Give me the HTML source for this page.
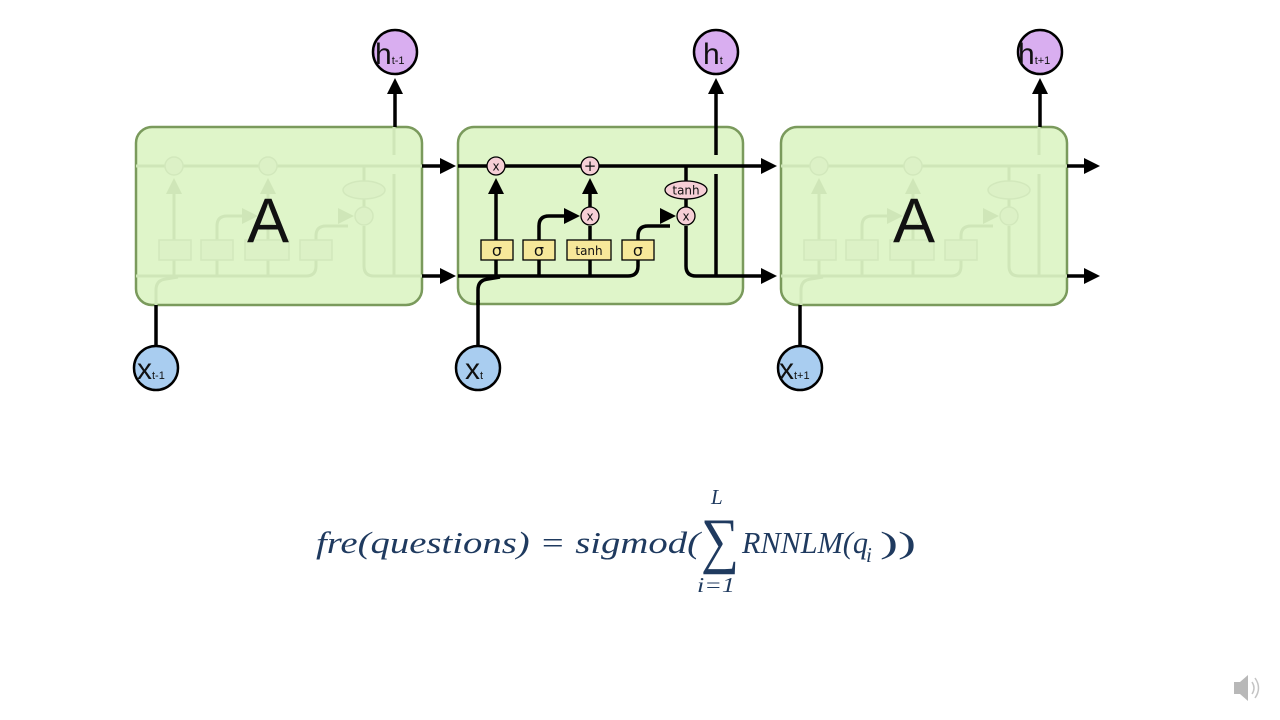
<!DOCTYPE html>
<html><head><meta charset="utf-8"><style>
html,body{margin:0;padding:0;background:#fff;}
svg{display:block;}
</style></head><body>
<svg width="1280" height="720" viewBox="0 0 1280 720" xmlns="http://www.w3.org/2000/svg" font-family="'DejaVu Sans','Liberation Sans',sans-serif">
<defs>
<g id="cell">
  <line x1="458" y1="166" x2="762" y2="166"/>
  <path d="M458 276 H628 Q638 276 638 266 V236 Q638 226 648 226 H670" fill="none"/>
  <path d="M478 305 V290 Q478 280 488 279 L500 277" fill="none"/>
  <path d="M686 226 V266 Q686 276 696 276 H762" fill="none"/>
  <line x1="716" y1="276" x2="716" y2="174"/>
  <line x1="716" y1="155" x2="716" y2="127"/>
  <line x1="496" y1="276" x2="496" y2="194"/>
  <path d="M539 276 V226 Q539 216 549 216 H566" fill="none"/>
  <line x1="590" y1="276" x2="590" y2="226"/>
  <line x1="590" y1="207" x2="590" y2="194"/>
  <line x1="686" y1="166" x2="686" y2="207"/>
</g>
<g id="heads">
  <polygon points="496,178 488,194 504,194"/>
  <polygon points="590,178 582,194 598,194"/>
  <polygon points="580,216 564,208 564,224"/>
  <polygon points="676,216 660,208 660,224"/>
</g>
<g id="nodes">
  <circle cx="496" cy="166" r="9"/>
  <circle cx="590" cy="166" r="9"/>
  <circle cx="590" cy="216" r="9"/>
  <circle cx="686" cy="216" r="9"/>
  <ellipse cx="686" cy="190" rx="21" ry="9"/>
  <rect x="481" y="240" width="32" height="20"/>
  <rect x="523" y="240" width="32" height="20"/>
  <rect x="567" y="240" width="44" height="20"/>
  <rect x="622" y="240" width="32" height="20"/>
</g>
</defs>

<rect x="136" y="127" width="286" height="178" rx="16" fill="#dff5c9" stroke="#7a9a5c" stroke-width="2.5"/>
<rect x="458" y="127" width="285" height="177" rx="16" fill="#dff5c9" stroke="#7a9a5c" stroke-width="2.5"/>
<rect x="781" y="127" width="286" height="178" rx="16" fill="#dff5c9" stroke="#7a9a5c" stroke-width="2.5"/>

<g transform="translate(-322,0)">
  <use href="#cell" stroke="#cfe6b8" stroke-width="3"/>
  <use href="#heads" fill="#cfe6b8"/>
  <use href="#nodes" fill="#dcf1c6" stroke="#d2e8bc" stroke-width="1.5"/>
</g>
<g transform="translate(323,0)">
  <use href="#cell" stroke="#cfe6b8" stroke-width="3"/>
  <use href="#heads" fill="#cfe6b8"/>
  <use href="#nodes" fill="#dcf1c6" stroke="#d2e8bc" stroke-width="1.5"/>
</g>
<text x="268" y="242" font-size="63" text-anchor="middle" fill="#111" font-family="'Liberation Sans',sans-serif">A</text>
<text x="914" y="242" font-size="63" text-anchor="middle" fill="#111" font-family="'Liberation Sans',sans-serif">A</text>

<use href="#cell" stroke="#000" stroke-width="3.5"/>
<use href="#heads" fill="#000"/>
<g stroke="#000" stroke-width="1.3">
  <circle cx="496" cy="166" r="9" fill="#f6cfd6"/>
  <circle cx="590" cy="166" r="9" fill="#f6cfd6"/>
  <circle cx="590" cy="216" r="9" fill="#f6cfd6"/>
  <circle cx="686" cy="216" r="9" fill="#f6cfd6"/>
  <ellipse cx="686" cy="190" rx="21" ry="9" fill="#f6cfd6"/>
  <rect x="481" y="240" width="32" height="20" fill="#f7e89a"/>
  <rect x="523" y="240" width="32" height="20" fill="#f7e89a"/>
  <rect x="567" y="240" width="44" height="20" fill="#f7e89a"/>
  <rect x="622" y="240" width="32" height="20" fill="#f7e89a"/>
</g>
<g font-size="12" text-anchor="middle" fill="#111">
  <text x="496" y="170.5">x</text>
  <text x="590" y="171" font-size="15">+</text>
  <text x="590" y="220.5">x</text>
  <text x="686" y="220.5">x</text>
  <text x="686" y="194.5" font-size="12">tanh</text>
  <text x="497" y="256" font-size="16">σ</text>
  <text x="539" y="256" font-size="16">σ</text>
  <text x="589" y="255" font-size="12">tanh</text>
  <text x="638" y="256" font-size="16">σ</text>
</g>

<g stroke="#000" stroke-width="3.5">
  <line x1="395" y1="127" x2="395" y2="92"/>
  <line x1="716" y1="127" x2="716" y2="92"/>
  <line x1="1040" y1="127" x2="1040" y2="92"/>
  <line x1="422" y1="166" x2="442" y2="166"/>
  <line x1="422" y1="276" x2="442" y2="276"/>
  <line x1="1067" y1="166" x2="1086" y2="166"/>
  <line x1="1067" y1="276" x2="1086" y2="276"/>
  <line x1="156" y1="346" x2="156" y2="305"/>
  <line x1="478" y1="346" x2="478" y2="300"/>
  <line x1="800" y1="346" x2="800" y2="305"/>
</g>
<g fill="#000">
  <polygon points="395,78 387,94 403,94"/>
  <polygon points="716,78 708,94 724,94"/>
  <polygon points="1040,78 1032,94 1048,94"/>
  <polygon points="456,166 440,158 440,174"/>
  <polygon points="456,276 440,268 440,284"/>
  <polygon points="777,166 761,158 761,174"/>
  <polygon points="777,276 761,268 761,284"/>
  <polygon points="1100,166 1084,158 1084,174"/>
  <polygon points="1100,276 1084,268 1084,284"/>
</g>

<g stroke="#000" stroke-width="2.5" fill="#d9aef0">
  <circle cx="395" cy="52" r="22"/>
  <circle cx="716" cy="52" r="22"/>
  <circle cx="1040" cy="52" r="22"/>
</g>
<g stroke="#000" stroke-width="2.5" fill="#a9cdf0">
  <circle cx="156" cy="368" r="22"/>
  <circle cx="478" cy="368" r="22"/>
  <circle cx="800" cy="368" r="22"/>
</g>
<g fill="#111" font-family="'Liberation Sans',sans-serif">
  <text x="375" y="64" font-size="30">h<tspan font-size="11">t-1</tspan></text>
  <text x="703" y="64" font-size="30">h<tspan font-size="11">t</tspan></text>
  <text x="1018" y="64" font-size="30">h<tspan font-size="11">t+1</tspan></text>
  <text x="137" y="379" font-size="30">x<tspan font-size="11">t-1</tspan></text>
  <text x="465" y="379" font-size="30">x<tspan font-size="11">t</tspan></text>
  <text x="779" y="379" font-size="30">x<tspan font-size="11">t+1</tspan></text>
</g>

<g fill="#1f3a5f" font-family="'Liberation Serif','DejaVu Serif',serif" font-style="italic">
  <text x="316" y="553" font-size="31" textLength="384" lengthAdjust="spacingAndGlyphs">fre(questions) = sigmod(</text>
  <text x="701" y="561" font-size="62" font-style="normal" textLength="38" lengthAdjust="spacingAndGlyphs">∑</text>
  <text x="711" y="504" font-size="21">L</text>
  <text x="697" y="592" font-size="21" textLength="38" lengthAdjust="spacingAndGlyphs">i=1</text>
  <text x="742" y="553" font-size="31" textLength="126" lengthAdjust="spacingAndGlyphs">RNNLM(q</text>
  <text x="866" y="562" font-size="21">i</text>
  <text x="880" y="553" font-size="31" font-style="normal" textLength="36" lengthAdjust="spacingAndGlyphs">))</text>
</g>

<g fill="#b8b8b8">
  <polygon points="1234,682 1240,682 1248,675 1248,701 1240,694 1234,694"/>
</g>
<g stroke="#c4c4c4" stroke-width="1.5" fill="none">
  <path d="M1252 682 Q1256 688 1252 694"/>
  <path d="M1255 678 Q1262 688 1255 698"/>
</g>
</svg>
</body></html>
